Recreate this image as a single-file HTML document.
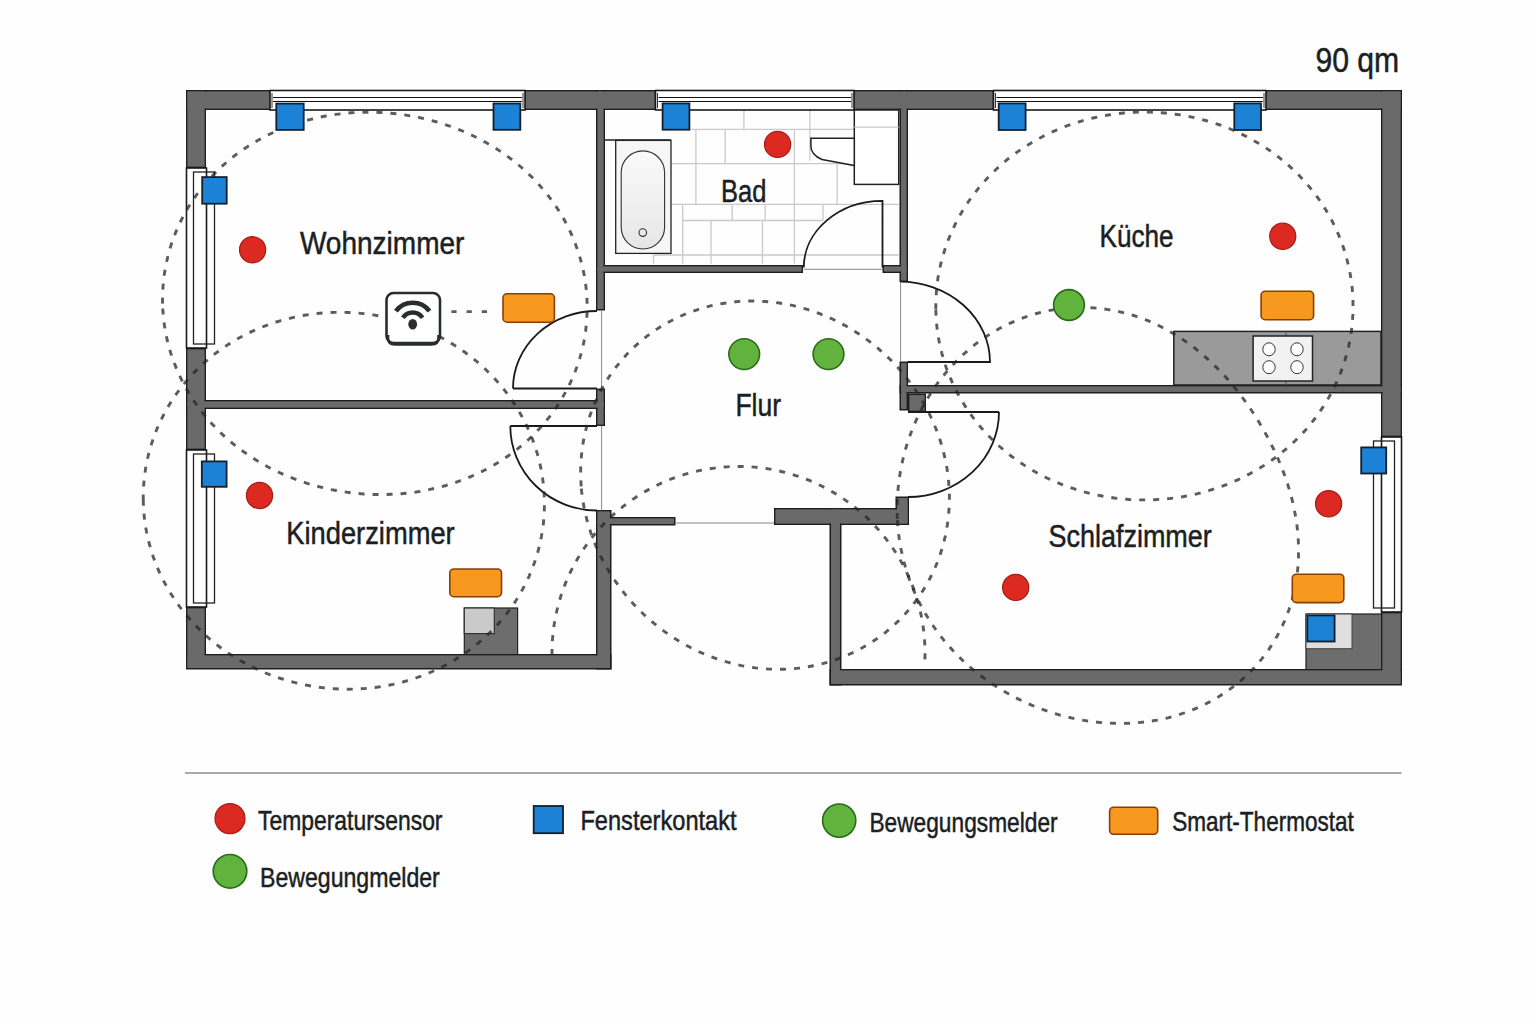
<!DOCTYPE html><html><head><meta charset="utf-8"><style>html,body{margin:0;padding:0;background:#fff;}svg{display:block;}text{font-family:"Liberation Sans",sans-serif;fill:#1b1e23;}</style></head><body>
<svg width="1536" height="1024" viewBox="0 0 1536 1024">
<rect width="1536" height="1024" fill="#fefefe"/>
<g stroke="#c9c9c9" stroke-width="1.3"><line x1="690.8" y1="129.3" x2="854.3" y2="129.3"/><line x1="671.6" y1="163.6" x2="854.3" y2="163.6"/><line x1="671.6" y1="204.3" x2="898.7" y2="204.3"/><line x1="682.7" y1="220.5" x2="823" y2="220.5"/><line x1="653.5" y1="255" x2="898.7" y2="255"/><line x1="854.3" y1="127.2" x2="898.7" y2="127.2"/><line x1="743.9" y1="110" x2="743.9" y2="129.3"/><line x1="809.9" y1="110" x2="809.9" y2="160.5"/><line x1="695.9" y1="129.3" x2="695.9" y2="204.3"/><line x1="725.1" y1="129.3" x2="725.1" y2="163.6"/><line x1="794.4" y1="129.3" x2="794.4" y2="263.5"/><line x1="837.1" y1="163.6" x2="837.1" y2="204.3"/><line x1="682.7" y1="204.3" x2="682.7" y2="263.5"/><line x1="732.2" y1="204.3" x2="732.2" y2="220.5"/><line x1="765.1" y1="204.3" x2="765.1" y2="220.5"/><line x1="823" y1="204.3" x2="823" y2="220.5"/><line x1="711" y1="220.5" x2="711" y2="263.5"/><line x1="762.5" y1="220.5" x2="762.5" y2="263.5"/><line x1="653.5" y1="255" x2="653.5" y2="263.5"/></g>
<defs><linearGradient id="tub" x1="0" y1="0" x2="0" y2="1"><stop offset="0" stop-color="#fafafa"/><stop offset="1" stop-color="#e6e6e6"/></linearGradient></defs>
<line x1="605" y1="140" x2="671" y2="140" stroke="#222" stroke-width="1.4"/>
<rect x="615.7" y="140.4" width="55.3" height="113.0" fill="#f6f6f6" stroke="#222" stroke-width="1.3"/>
<rect x="621.2" y="150.9" width="43.4" height="98.1" rx="21.7" fill="url(#tub)" stroke="#333" stroke-width="1.1"/>
<circle cx="642.8" cy="232.6" r="3.8" fill="none" stroke="#333" stroke-width="1.1"/>
<rect x="854.3" y="110.0" width="44.4" height="74.4" fill="#fff" stroke="#222" stroke-width="1.5"/>
<line x1="854.3" y1="127.2" x2="898.7" y2="127.2" stroke="#c9c9c9" stroke-width="1.3"/>
<path d="M 810.9 138.3 L 854.3 138.3 L 854.3 165.6 L 822 159.5 Q 810.9 155 810.9 146 Z" fill="#fff" stroke="#222" stroke-width="1.5"/>
<rect x="1173.8" y="331.4" width="207.2" height="53.6" fill="#9a9a9a" stroke="#222" stroke-width="1.5"/>
<line x1="1286" y1="331.4" x2="1286" y2="385" stroke="#555" stroke-width="1"/>
<rect x="1253.1" y="336.0" width="59.4" height="45.0" fill="#f2f2f2" stroke="#222" stroke-width="1.5"/>
<ellipse cx="1269" cy="349.3" rx="6.2" ry="6.5" fill="#fff" stroke="#333" stroke-width="1"/>
<ellipse cx="1269" cy="367.2" rx="6.2" ry="6.5" fill="#fff" stroke="#333" stroke-width="1"/>
<ellipse cx="1297" cy="349.3" rx="6.2" ry="6.5" fill="#fff" stroke="#333" stroke-width="1"/>
<ellipse cx="1297" cy="367.2" rx="6.2" ry="6.5" fill="#fff" stroke="#333" stroke-width="1"/>
<rect x="464.3" y="608.0" width="53.3" height="47.0" fill="#6d6d6d" stroke="#222" stroke-width="1.2"/>
<rect x="464.3" y="608.0" width="30.0" height="25.6" fill="#cacaca" stroke="#333" stroke-width="1.2"/>
<rect x="1306.0" y="614.0" width="76.0" height="56.0" fill="#6d6d6d" stroke="#222" stroke-width="1.2"/>
<rect x="1306.0" y="614.0" width="46.0" height="34.7" fill="#dedede" stroke="#444" stroke-width="1.0"/>
<rect x="186.8" y="90.8" width="83.4" height="18.4" fill="#6a6a6a" stroke="#1e1e1e" stroke-width="1.6"/>
<rect x="524.8" y="90.8" width="130.4" height="18.4" fill="#6a6a6a" stroke="#1e1e1e" stroke-width="1.6"/>
<rect x="853.8" y="90.8" width="139.4" height="18.4" fill="#6a6a6a" stroke="#1e1e1e" stroke-width="1.6"/>
<rect x="1265.8" y="90.8" width="135.4" height="18.4" fill="#6a6a6a" stroke="#1e1e1e" stroke-width="1.6"/>
<rect x="186.8" y="90.8" width="18.4" height="76.4" fill="#6a6a6a" stroke="#1e1e1e" stroke-width="1.6"/>
<rect x="186.8" y="348.8" width="18.4" height="100.4" fill="#6a6a6a" stroke="#1e1e1e" stroke-width="1.6"/>
<rect x="186.8" y="607.8" width="18.4" height="60.4" fill="#6a6a6a" stroke="#1e1e1e" stroke-width="1.6"/>
<rect x="1381.8" y="90.8" width="19.4" height="345.4" fill="#6a6a6a" stroke="#1e1e1e" stroke-width="1.6"/>
<rect x="1381.8" y="612.8" width="19.4" height="71.4" fill="#6a6a6a" stroke="#1e1e1e" stroke-width="1.6"/>
<rect x="186.8" y="654.8" width="423.9" height="13.9" fill="#6a6a6a" stroke="#1e1e1e" stroke-width="1.6"/>
<rect x="596.8" y="510.8" width="13.9" height="157.9" fill="#6a6a6a" stroke="#1e1e1e" stroke-width="1.6"/>
<rect x="596.8" y="90.8" width="7.4" height="218.9" fill="#6a6a6a" stroke="#1e1e1e" stroke-width="1.6"/>
<rect x="596.8" y="389.3" width="7.4" height="35.9" fill="#6a6a6a" stroke="#1e1e1e" stroke-width="1.6"/>
<rect x="186.8" y="400.8" width="417.4" height="7.4" fill="#6a6a6a" stroke="#1e1e1e" stroke-width="1.6"/>
<rect x="596.8" y="517.8" width="77.9" height="6.9" fill="#6a6a6a" stroke="#1e1e1e" stroke-width="1.6"/>
<rect x="596.8" y="265.8" width="205.4" height="6.4" fill="#6a6a6a" stroke="#1e1e1e" stroke-width="1.6"/>
<rect x="883.3" y="265.8" width="23.9" height="6.4" fill="#6a6a6a" stroke="#1e1e1e" stroke-width="1.6"/>
<rect x="900.3" y="90.8" width="6.9" height="190.4" fill="#6a6a6a" stroke="#1e1e1e" stroke-width="1.6"/>
<rect x="900.3" y="362.3" width="6.9" height="47.4" fill="#6a6a6a" stroke="#1e1e1e" stroke-width="1.6"/>
<rect x="908.8" y="394.3" width="16.4" height="16.9" fill="#6a6a6a" stroke="#1e1e1e" stroke-width="1.6"/>
<rect x="900.3" y="385.8" width="500.9" height="6.9" fill="#6a6a6a" stroke="#1e1e1e" stroke-width="1.6"/>
<rect x="774.8" y="508.8" width="133.4" height="15.4" fill="#6a6a6a" stroke="#1e1e1e" stroke-width="1.6"/>
<rect x="896.3" y="497.3" width="11.9" height="26.9" fill="#6a6a6a" stroke="#1e1e1e" stroke-width="1.6"/>
<rect x="830.3" y="508.8" width="10.4" height="175.9" fill="#6a6a6a" stroke="#1e1e1e" stroke-width="1.6"/>
<rect x="830.3" y="669.8" width="570.9" height="14.9" fill="#6a6a6a" stroke="#1e1e1e" stroke-width="1.6"/>
<rect x="187.6" y="91.6" width="81.8" height="16.8" fill="#6a6a6a"/>
<rect x="525.6" y="91.6" width="128.8" height="16.8" fill="#6a6a6a"/>
<rect x="854.6" y="91.6" width="137.8" height="16.8" fill="#6a6a6a"/>
<rect x="1266.6" y="91.6" width="133.8" height="16.8" fill="#6a6a6a"/>
<rect x="187.6" y="91.6" width="16.8" height="74.8" fill="#6a6a6a"/>
<rect x="187.6" y="349.6" width="16.8" height="98.8" fill="#6a6a6a"/>
<rect x="187.6" y="608.6" width="16.8" height="58.8" fill="#6a6a6a"/>
<rect x="1382.6" y="91.6" width="17.8" height="343.8" fill="#6a6a6a"/>
<rect x="1382.6" y="613.6" width="17.8" height="69.8" fill="#6a6a6a"/>
<rect x="187.6" y="655.6" width="422.3" height="12.3" fill="#6a6a6a"/>
<rect x="597.6" y="511.6" width="12.3" height="156.3" fill="#6a6a6a"/>
<rect x="597.6" y="91.6" width="5.8" height="217.3" fill="#6a6a6a"/>
<rect x="597.6" y="390.1" width="5.8" height="34.3" fill="#6a6a6a"/>
<rect x="187.6" y="401.6" width="415.8" height="5.8" fill="#6a6a6a"/>
<rect x="597.6" y="518.6" width="76.3" height="5.3" fill="#6a6a6a"/>
<rect x="597.6" y="266.6" width="203.8" height="4.8" fill="#6a6a6a"/>
<rect x="884.1" y="266.6" width="22.3" height="4.8" fill="#6a6a6a"/>
<rect x="901.1" y="91.6" width="5.3" height="188.8" fill="#6a6a6a"/>
<rect x="901.1" y="363.1" width="5.3" height="45.8" fill="#6a6a6a"/>
<rect x="909.6" y="395.1" width="14.8" height="15.3" fill="#6a6a6a"/>
<rect x="901.1" y="386.6" width="499.3" height="5.3" fill="#6a6a6a"/>
<rect x="775.6" y="509.6" width="131.8" height="13.8" fill="#6a6a6a"/>
<rect x="897.1" y="498.1" width="10.3" height="25.3" fill="#6a6a6a"/>
<rect x="831.1" y="509.6" width="8.8" height="174.3" fill="#6a6a6a"/>
<rect x="831.1" y="670.6" width="569.3" height="13.3" fill="#6a6a6a"/>
<rect x="270.0" y="90.5" width="255.0" height="19.5" fill="#fff" stroke="#1a1a1a" stroke-width="1.6"/>
<line x1="273" y1="97.5" x2="522" y2="97.5" stroke="#111" stroke-width="1.1"/>
<line x1="273" y1="101.5" x2="522" y2="101.5" stroke="#111" stroke-width="1.1"/>
<line x1="272" y1="93" x2="272" y2="108" stroke="#333" stroke-width="1"/>
<line x1="523" y1="93" x2="523" y2="108" stroke="#333" stroke-width="1"/>
<rect x="655.5" y="90.5" width="198.5" height="19.5" fill="#fff" stroke="#1a1a1a" stroke-width="1.6"/>
<line x1="658.5" y1="97.5" x2="851" y2="97.5" stroke="#111" stroke-width="1.1"/>
<line x1="658.5" y1="101.5" x2="851" y2="101.5" stroke="#111" stroke-width="1.1"/>
<line x1="657.5" y1="93" x2="657.5" y2="108" stroke="#333" stroke-width="1"/>
<line x1="852" y1="93" x2="852" y2="108" stroke="#333" stroke-width="1"/>
<rect x="993.5" y="90.5" width="272.5" height="19.5" fill="#fff" stroke="#1a1a1a" stroke-width="1.6"/>
<line x1="996.5" y1="97.5" x2="1263" y2="97.5" stroke="#111" stroke-width="1.1"/>
<line x1="996.5" y1="101.5" x2="1263" y2="101.5" stroke="#111" stroke-width="1.1"/>
<line x1="995.5" y1="93" x2="995.5" y2="108" stroke="#333" stroke-width="1"/>
<line x1="1264" y1="93" x2="1264" y2="108" stroke="#333" stroke-width="1"/>
<rect x="186.5" y="168.0" width="20.0" height="180.0" fill="#fff" stroke="#1a1a1a" stroke-width="1.6"/>
<rect x="193.5" y="172.0" width="21.0" height="172.0" fill="none" stroke="#222" stroke-width="1.3"/>
<rect x="186.5" y="450.0" width="20.0" height="157.0" fill="#fff" stroke="#1a1a1a" stroke-width="1.6"/>
<rect x="193.5" y="454.0" width="21.0" height="149.0" fill="none" stroke="#222" stroke-width="1.3"/>
<rect x="1381.5" y="437.0" width="20.0" height="175.0" fill="#fff" stroke="#1a1a1a" stroke-width="1.6"/>
<rect x="1373.5" y="441.0" width="21.0" height="167.0" fill="none" stroke="#222" stroke-width="1.3"/>
<g fill="none" stroke="#1a1a1a" stroke-width="1.8">
<path d="M 803.8 267.5 A 78.7 66.6 0 0 1 882.5 200.9 L 882.5 267.5"/>
<path d="M 513 388.5 A 84 77.5 0 0 1 597 311 M 513 388.5 L 597 388.5"/>
<path d="M 510.3 426 A 86.7 84.5 0 0 0 597 510.5 M 510.3 426 L 597 426"/>
<path d="M 900 281.7 A 90 80.5 0 0 1 990 362 L 908 362"/>
<path d="M 999 412 A 91 85 0 0 1 908 497 M 999 412 L 908 412"/>
</g>
<g stroke="#888" stroke-width="1">
<line x1="601.6" y1="310.5" x2="601.6" y2="388.5"/>
<line x1="601.6" y1="426" x2="601.6" y2="510.5"/>
<line x1="803.8" y1="269.3" x2="882.5" y2="269.3"/>
<line x1="900.6" y1="282" x2="900.6" y2="361.5"/>
<line x1="675.5" y1="523" x2="774" y2="523"/>
</g>
<g fill="none" stroke="#262626" stroke-opacity="0.75" stroke-width="2.9" stroke-dasharray="6 8">
<path d="M 162.6 303.6 L 162.5 298.0 L 162.7 292.4 L 163.0 286.8 L 163.5 281.2 L 164.1 275.7 L 165.0 270.1 L 166.0 264.6 L 167.2 259.2 L 168.5 253.7 L 170.0 248.4 L 171.7 243.0 L 173.6 237.8 L 175.6 232.6 L 177.8 227.5 L 180.1 222.4 L 182.6 217.5 L 185.3 212.6 L 188.0 207.8 L 191.0 203.1 L 194.0 198.5 L 197.2 194.0 L 200.5 189.6 L 204.0 185.3 L 207.5 181.1 L 211.2 177.1 L 215.0 173.1 L 218.8 169.3 L 222.8 165.6 L 226.9 162.0 L 231.0 158.6 L 235.3 155.2 L 239.6 152.0 L 244.0 149.0 L 248.5 146.0 L 253.0 143.2 L 257.6 140.5 L 262.2 138.0 L 266.9 135.5 L 271.7 133.2 L 276.4 131.1 L 281.3 129.0 L 286.1 127.1 L 291.0 125.3 L 295.9 123.6 L 300.8 122.0 L 305.8 120.6 L 310.8 119.3 L 315.8 118.1 L 320.8 117.0 L 325.8 116.0 L 330.8 115.2 L 335.8 114.4 L 340.9 113.8 L 345.9 113.3 L 350.9 112.8 L 356.0 112.5 L 361.0 112.3 L 366.0 112.2 L 371.0 112.2 L 376.0 112.3 L 381.0 112.5 L 386.0 112.9 L 391.0 113.3 L 396.0 113.8 L 400.9 114.4 L 405.9 115.1 L 410.8 115.9 L 415.7 116.8 L 420.6 117.8 L 425.5 119.0 L 430.4 120.2 L 435.2 121.5 L 440.0 122.9 L 444.8 124.4 L 449.6 126.0 L 454.3 127.8 L 459.0 129.6 L 463.7 131.5 L 468.3 133.6 L 472.9 135.7 L 477.5 138.0 L 482.0 140.3 L 486.5 142.8 L 491.0 145.4 L 495.4 148.1 L 499.7 150.9 L 504.0 153.8 L 508.2 156.8 L 512.3 159.9 L 516.4 163.2 L 520.4 166.5 L 524.4 170.0 L 528.2 173.6 L 532.0 177.3 L 535.7 181.1 L 539.3 185.0 L 542.8 189.0 L 546.2 193.1 L 549.5 197.3 L 552.6 201.6 L 555.7 206.0 L 558.7 210.5 L 561.5 215.1 L 564.2 219.8 L 566.8 224.6 L 569.2 229.4 L 571.5 234.4 L 573.6 239.4 L 575.6 244.4 L 577.5 249.6 L 579.2 254.8 L 580.7 260.1 L 582.1 265.4 L 583.3 270.7 L 584.4 276.1 L 585.3 281.6 L 586.0 287.0 L 586.6 292.5 L 586.9 298.0 L 587.1 303.6 L 587.2 309.1 L 587.0 314.6 L 586.7 320.1 L 586.2 325.7 L 585.6 331.2 L 584.8 336.6 L 583.8 342.1 L 582.6 347.5 L 581.3 352.8 L 579.8 358.1 L 578.1 363.4 L 576.3 368.6 L 574.3 373.8 L 572.1 378.8 L 569.8 383.8 L 567.4 388.8 L 564.8 393.6 L 562.0 398.3 L 559.2 403.0 L 556.2 407.6 L 553.0 412.0 L 549.8 416.4 L 546.4 420.6 L 542.9 424.8 L 539.3 428.8 L 535.6 432.7 L 531.7 436.5 L 527.8 440.2 L 523.8 443.8 L 519.7 447.2 L 515.5 450.6 L 511.3 453.7 L 506.9 456.8 L 502.5 459.8 L 498.1 462.6 L 493.5 465.3 L 489.0 467.9 L 484.3 470.3 L 479.6 472.6 L 474.9 474.8 L 470.2 476.9 L 465.4 478.9 L 460.5 480.7 L 455.7 482.4 L 450.8 484.0 L 445.9 485.5 L 440.9 486.9 L 436.0 488.1 L 431.0 489.2 L 426.1 490.3 L 421.1 491.2 L 416.1 492.0 L 411.1 492.6 L 406.1 493.2 L 401.1 493.7 L 396.1 494.1 L 391.1 494.3 L 386.0 494.5 L 381.0 494.6 L 376.0 494.5 L 371.0 494.4 L 366.1 494.1 L 361.1 493.8 L 356.1 493.3 L 351.1 492.8 L 346.2 492.1 L 341.2 491.4 L 336.3 490.5 L 331.4 489.6 L 326.5 488.5 L 321.6 487.3 L 316.7 486.1 L 311.9 484.7 L 307.1 483.3 L 302.3 481.7 L 297.5 480.0 L 292.7 478.2 L 288.0 476.3 L 283.3 474.3 L 278.7 472.2 L 274.0 470.0 L 269.5 467.7 L 264.9 465.2 L 260.4 462.7 L 256.0 460.0 L 251.6 457.2 L 247.3 454.3 L 243.0 451.3 L 238.8 448.2 L 234.6 445.0 L 230.5 441.6 L 226.5 438.2 L 222.6 434.6 L 218.8 430.9 L 215.0 427.1 L 211.4 423.2 L 207.8 419.2 L 204.4 415.0 L 201.0 410.8 L 197.8 406.5 L 194.7 402.0 L 191.6 397.5 L 188.8 392.9 L 186.0 388.2 L 183.4 383.4 L 180.9 378.5 L 178.6 373.5 L 176.4 368.4 L 174.4 363.3 L 172.5 358.1 L 170.7 352.9 L 169.1 347.5 L 167.7 342.2 L 166.5 336.8 L 165.4 331.3 L 164.5 325.8 L 163.8 320.3 L 163.2 314.7 L 162.8 309.1 Z"/>
<path d="M 143.3 500.5 L 143.2 495.3 L 143.4 490.0 L 143.7 484.8 L 144.2 479.5 L 144.8 474.3 L 145.5 469.1 L 146.4 463.9 L 147.5 458.8 L 148.7 453.7 L 150.1 448.6 L 151.6 443.6 L 153.3 438.6 L 155.1 433.7 L 157.0 428.8 L 159.1 424.0 L 161.4 419.3 L 163.7 414.6 L 166.2 410.0 L 168.8 405.5 L 171.6 401.1 L 174.4 396.7 L 177.4 392.5 L 180.5 388.3 L 183.7 384.2 L 187.1 380.2 L 190.5 376.4 L 194.0 372.6 L 197.7 368.9 L 201.4 365.4 L 205.2 361.9 L 209.1 358.6 L 213.1 355.3 L 217.1 352.2 L 221.3 349.2 L 225.5 346.3 L 229.8 343.5 L 234.1 340.9 L 238.5 338.3 L 243.0 335.9 L 247.5 333.6 L 252.0 331.4 L 256.6 329.4 L 261.3 327.4 L 265.9 325.6 L 270.7 323.9 L 275.4 322.3 L 280.2 320.8 L 285.0 319.5 L 289.8 318.3 L 294.7 317.2 L 299.6 316.2 L 304.4 315.3 L 309.3 314.5 L 314.3 313.9 L 319.2 313.3 L 324.1 312.9 L 329.0 312.6 L 334.0 312.4 L 338.9 312.3 L 343.8 312.4 L 348.7 312.5 L 353.7 312.8 L 358.6 313.1 L 363.5 313.6 L 368.3 314.2 L 373.2 314.9 L 378.1 315.7 L 382.9 316.6 L 387.7 317.7 L 392.5 318.8 L 397.3 320.1 L 402.0 321.4 L 406.7 322.9 L 411.4 324.5 L 416.0 326.1 L 420.7 327.9 L 425.2 329.8 L 429.8 331.9 L 434.2 334.0 L 438.7 336.2 L 443.1 338.5 L 447.4 341.0 L 451.7 343.5 L 456.0 346.2 L 460.1 348.9 L 464.2 351.8 L 468.3 354.8 L 472.3 357.9 L 476.2 361.0 L 480.0 364.3 L 483.8 367.7 L 487.4 371.2 L 491.0 374.8 L 494.5 378.5 L 497.9 382.3 L 501.3 386.1 L 504.5 390.1 L 507.6 394.2 L 510.6 398.3 L 513.5 402.6 L 516.3 406.9 L 519.0 411.3 L 521.5 415.8 L 524.0 420.3 L 526.3 424.9 L 528.5 429.6 L 530.5 434.4 L 532.5 439.2 L 534.2 444.1 L 535.9 449.1 L 537.4 454.0 L 538.8 459.1 L 540.0 464.2 L 541.1 469.3 L 542.0 474.4 L 542.8 479.6 L 543.4 484.8 L 543.9 490.0 L 544.2 495.3 L 544.4 500.5 L 544.4 505.8 L 544.3 511.0 L 544.0 516.3 L 543.6 521.5 L 543.0 526.7 L 542.2 531.9 L 541.3 537.1 L 540.2 542.3 L 539.0 547.4 L 537.7 552.5 L 536.2 557.5 L 534.5 562.5 L 532.7 567.4 L 530.8 572.3 L 528.7 577.1 L 526.5 581.8 L 524.1 586.5 L 521.6 591.1 L 519.0 595.6 L 516.3 600.1 L 513.4 604.5 L 510.4 608.7 L 507.3 612.9 L 504.1 617.0 L 500.8 621.0 L 497.4 624.9 L 493.8 628.7 L 490.2 632.3 L 486.5 635.9 L 482.7 639.4 L 478.8 642.7 L 474.8 646.0 L 470.7 649.1 L 466.6 652.1 L 462.4 655.0 L 458.1 657.8 L 453.8 660.5 L 449.4 663.0 L 444.9 665.5 L 440.4 667.8 L 435.8 670.0 L 431.2 672.0 L 426.6 674.0 L 421.9 675.8 L 417.1 677.5 L 412.4 679.1 L 407.6 680.6 L 402.8 682.0 L 397.9 683.2 L 393.1 684.3 L 388.2 685.3 L 383.3 686.2 L 378.4 687.0 L 373.5 687.6 L 368.5 688.2 L 363.6 688.6 L 358.6 688.9 L 353.7 689.1 L 348.8 689.2 L 343.8 689.1 L 338.9 689.0 L 334.0 688.7 L 329.0 688.3 L 324.1 687.9 L 319.2 687.3 L 314.4 686.6 L 309.5 685.7 L 304.6 684.8 L 299.8 683.8 L 295.0 682.6 L 290.2 681.4 L 285.5 680.0 L 280.8 678.5 L 276.1 677.0 L 271.4 675.3 L 266.8 673.5 L 262.2 671.6 L 257.7 669.5 L 253.2 667.4 L 248.8 665.2 L 244.4 662.8 L 240.0 660.4 L 235.7 657.8 L 231.5 655.1 L 227.3 652.4 L 223.2 649.5 L 219.1 646.5 L 215.2 643.4 L 211.3 640.2 L 207.4 636.9 L 203.7 633.5 L 200.0 630.0 L 196.4 626.4 L 192.9 622.7 L 189.5 618.9 L 186.2 615.0 L 183.0 611.1 L 179.9 607.0 L 176.9 602.8 L 174.0 598.6 L 171.2 594.3 L 168.5 589.8 L 166.0 585.4 L 163.5 580.8 L 161.2 576.2 L 159.0 571.4 L 157.0 566.7 L 155.1 561.8 L 153.3 557.0 L 151.7 552.0 L 150.2 547.0 L 148.8 542.0 L 147.6 536.9 L 146.5 531.8 L 145.6 526.6 L 144.8 521.4 L 144.2 516.2 L 143.7 511.0 L 143.4 505.8 Z"/>
<path d="M 581.2 486.4 L 580.9 481.6 L 580.7 476.7 L 580.7 471.9 L 580.7 467.0 L 580.9 462.1 L 581.3 457.3 L 581.8 452.4 L 582.4 447.6 L 583.1 442.7 L 584.0 437.9 L 585.0 433.1 L 586.2 428.3 L 587.5 423.5 L 588.9 418.8 L 590.5 414.1 L 592.2 409.5 L 594.1 404.9 L 596.1 400.3 L 598.2 395.8 L 600.4 391.4 L 602.8 387.0 L 605.3 382.7 L 608.0 378.5 L 610.7 374.3 L 613.6 370.2 L 616.6 366.3 L 619.8 362.4 L 623.0 358.6 L 626.4 354.8 L 629.8 351.2 L 633.4 347.7 L 637.1 344.4 L 640.9 341.1 L 644.8 337.9 L 648.7 334.9 L 652.8 331.9 L 656.9 329.1 L 661.1 326.5 L 665.4 323.9 L 669.8 321.5 L 674.2 319.2 L 678.7 317.0 L 683.2 315.0 L 687.8 313.1 L 692.5 311.4 L 697.2 309.8 L 701.9 308.3 L 706.7 306.9 L 711.5 305.7 L 716.3 304.7 L 721.1 303.7 L 726.0 303.0 L 730.9 302.3 L 735.7 301.8 L 740.6 301.4 L 745.5 301.1 L 750.4 301.0 L 755.3 301.0 L 760.1 301.2 L 765.0 301.5 L 769.8 301.9 L 774.6 302.4 L 779.4 303.0 L 784.2 303.8 L 788.9 304.7 L 793.6 305.7 L 798.2 306.9 L 802.9 308.1 L 807.4 309.4 L 812.0 310.9 L 816.5 312.5 L 820.9 314.2 L 825.3 315.9 L 829.7 317.8 L 834.0 319.8 L 838.2 321.9 L 842.4 324.1 L 846.5 326.3 L 850.6 328.7 L 854.6 331.2 L 858.5 333.7 L 862.4 336.3 L 866.2 339.1 L 870.0 341.9 L 873.6 344.7 L 877.3 347.7 L 880.8 350.8 L 884.3 353.9 L 887.7 357.1 L 891.0 360.3 L 894.3 363.7 L 897.4 367.1 L 900.5 370.6 L 903.5 374.2 L 906.5 377.8 L 909.3 381.5 L 912.1 385.2 L 914.8 389.1 L 917.4 393.0 L 919.9 396.9 L 922.4 400.9 L 924.7 405.0 L 926.9 409.1 L 929.1 413.3 L 931.1 417.5 L 933.1 421.8 L 934.9 426.2 L 936.7 430.6 L 938.3 435.0 L 939.9 439.5 L 941.3 444.0 L 942.6 448.6 L 943.8 453.2 L 944.9 457.9 L 945.9 462.5 L 946.8 467.3 L 947.5 472.0 L 948.1 476.8 L 948.6 481.6 L 949.0 486.4 L 949.3 491.2 L 949.4 496.0 L 949.4 500.9 L 949.2 505.7 L 948.9 510.6 L 948.5 515.4 L 948.0 520.3 L 947.3 525.1 L 946.5 530.0 L 945.6 534.8 L 944.5 539.5 L 943.3 544.3 L 941.9 549.0 L 940.4 553.7 L 938.8 558.4 L 937.0 563.0 L 935.1 567.5 L 933.1 572.0 L 930.9 576.5 L 928.6 580.9 L 926.2 585.2 L 923.7 589.4 L 921.0 593.6 L 918.2 597.7 L 915.3 601.7 L 912.3 605.6 L 909.1 609.5 L 905.8 613.2 L 902.5 616.8 L 899.0 620.4 L 895.4 623.8 L 891.7 627.1 L 887.9 630.4 L 884.1 633.5 L 880.1 636.4 L 876.1 639.3 L 872.0 642.0 L 867.8 644.7 L 863.5 647.1 L 859.2 649.5 L 854.8 651.7 L 850.3 653.8 L 845.8 655.8 L 841.2 657.6 L 836.6 659.3 L 832.0 660.9 L 827.3 662.3 L 822.6 663.6 L 817.8 664.8 L 813.1 665.8 L 808.3 666.7 L 803.5 667.5 L 798.7 668.1 L 793.8 668.6 L 789.0 668.9 L 784.2 669.2 L 779.4 669.3 L 774.6 669.2 L 769.8 669.1 L 765.0 668.8 L 760.2 668.4 L 755.5 667.9 L 750.7 667.2 L 746.0 666.4 L 741.4 665.6 L 736.8 664.6 L 732.2 663.4 L 727.6 662.2 L 723.1 660.9 L 718.6 659.4 L 714.2 657.9 L 709.8 656.3 L 705.4 654.5 L 701.1 652.7 L 696.9 650.7 L 692.7 648.7 L 688.6 646.5 L 684.5 644.3 L 680.5 642.0 L 676.5 639.6 L 672.6 637.1 L 668.8 634.5 L 665.0 631.9 L 661.3 629.1 L 657.6 626.3 L 654.0 623.4 L 650.5 620.4 L 647.0 617.4 L 643.6 614.2 L 640.3 611.0 L 637.1 607.7 L 633.9 604.4 L 630.8 601.0 L 627.8 597.5 L 624.8 593.9 L 622.0 590.3 L 619.2 586.6 L 616.5 582.8 L 613.8 579.0 L 611.3 575.1 L 608.8 571.1 L 606.5 567.1 L 604.2 563.1 L 602.0 558.9 L 599.9 554.7 L 597.9 550.5 L 596.0 546.2 L 594.2 541.9 L 592.5 537.5 L 590.9 533.0 L 589.5 528.5 L 588.1 524.0 L 586.8 519.4 L 585.7 514.8 L 584.6 510.1 L 583.7 505.4 L 582.9 500.7 L 582.2 496.0 L 581.6 491.2 Z"/>
<path d="M 552.01 655 A 186.5 186.5 0 1 1 924.47 667"/>
<path d="M 935.8 309.2 L 935.8 303.8 L 936.0 298.3 L 936.3 292.8 L 936.8 287.4 L 937.4 282.0 L 938.2 276.6 L 939.2 271.2 L 940.3 265.9 L 941.6 260.6 L 943.1 255.3 L 944.7 250.1 L 946.4 244.9 L 948.3 239.8 L 950.4 234.8 L 952.6 229.8 L 954.9 224.9 L 957.4 220.0 L 960.0 215.3 L 962.7 210.6 L 965.6 206.0 L 968.5 201.5 L 971.7 197.1 L 974.9 192.8 L 978.2 188.6 L 981.7 184.4 L 985.3 180.4 L 988.9 176.5 L 992.7 172.7 L 996.5 169.0 L 1000.5 165.4 L 1004.5 161.9 L 1008.6 158.5 L 1012.8 155.3 L 1017.1 152.1 L 1021.5 149.1 L 1025.9 146.2 L 1030.4 143.4 L 1034.9 140.8 L 1039.5 138.2 L 1044.2 135.8 L 1048.9 133.5 L 1053.6 131.3 L 1058.4 129.2 L 1063.3 127.2 L 1068.2 125.4 L 1073.1 123.7 L 1078.1 122.1 L 1083.0 120.6 L 1088.0 119.2 L 1093.1 118.0 L 1098.1 116.9 L 1103.2 115.9 L 1108.3 115.0 L 1113.4 114.2 L 1118.6 113.6 L 1123.7 113.0 L 1128.8 112.6 L 1134.0 112.3 L 1139.2 112.1 L 1144.3 112.1 L 1149.5 112.1 L 1154.6 112.3 L 1159.8 112.6 L 1164.9 113.0 L 1170.1 113.5 L 1175.2 114.2 L 1180.3 114.9 L 1185.4 115.8 L 1190.5 116.8 L 1195.6 117.9 L 1200.6 119.1 L 1205.6 120.5 L 1210.6 121.9 L 1215.6 123.5 L 1220.5 125.2 L 1225.4 127.1 L 1230.3 129.0 L 1235.1 131.1 L 1239.8 133.3 L 1244.6 135.6 L 1249.2 138.0 L 1253.8 140.6 L 1258.4 143.2 L 1262.9 146.0 L 1267.3 148.9 L 1271.7 151.9 L 1276.0 155.1 L 1280.2 158.3 L 1284.3 161.7 L 1288.3 165.2 L 1292.3 168.8 L 1296.2 172.5 L 1299.9 176.3 L 1303.6 180.2 L 1307.2 184.3 L 1310.6 188.4 L 1314.0 192.6 L 1317.2 196.9 L 1320.3 201.4 L 1323.3 205.9 L 1326.2 210.5 L 1328.9 215.2 L 1331.5 219.9 L 1334.0 224.8 L 1336.3 229.7 L 1338.5 234.7 L 1340.6 239.7 L 1342.5 244.8 L 1344.2 250.0 L 1345.8 255.2 L 1347.2 260.5 L 1348.5 265.8 L 1349.7 271.2 L 1350.6 276.5 L 1351.4 282.0 L 1352.1 287.4 L 1352.6 292.8 L 1352.9 298.3 L 1353.0 303.8 L 1353.0 309.2 L 1352.9 314.7 L 1352.5 320.1 L 1352.0 325.6 L 1351.4 331.0 L 1350.6 336.4 L 1349.6 341.7 L 1348.5 347.1 L 1347.2 352.3 L 1345.7 357.6 L 1344.1 362.8 L 1342.4 367.9 L 1340.5 373.0 L 1338.5 378.0 L 1336.3 382.9 L 1334.0 387.8 L 1331.5 392.6 L 1328.9 397.3 L 1326.2 401.9 L 1323.4 406.4 L 1320.4 410.9 L 1317.4 415.3 L 1314.2 419.5 L 1310.9 423.7 L 1307.5 427.8 L 1304.0 431.7 L 1300.4 435.6 L 1296.7 439.3 L 1292.9 443.0 L 1289.0 446.5 L 1285.0 449.9 L 1281.0 453.2 L 1276.9 456.4 L 1272.7 459.5 L 1268.4 462.5 L 1264.1 465.4 L 1259.8 468.1 L 1255.3 470.7 L 1250.8 473.2 L 1246.3 475.6 L 1241.7 477.9 L 1237.1 480.1 L 1232.4 482.1 L 1227.7 484.1 L 1223.0 485.9 L 1218.2 487.6 L 1213.4 489.2 L 1208.6 490.7 L 1203.7 492.1 L 1198.9 493.3 L 1194.0 494.5 L 1189.0 495.5 L 1184.1 496.5 L 1179.2 497.3 L 1174.2 498.0 L 1169.2 498.6 L 1164.3 499.1 L 1159.3 499.4 L 1154.3 499.7 L 1149.3 499.9 L 1144.3 499.9 L 1139.3 499.9 L 1134.3 499.7 L 1129.3 499.5 L 1124.4 499.1 L 1119.4 498.6 L 1114.4 498.0 L 1109.5 497.3 L 1104.5 496.5 L 1099.6 495.5 L 1094.7 494.5 L 1089.8 493.4 L 1084.9 492.1 L 1080.0 490.7 L 1075.2 489.2 L 1070.4 487.6 L 1065.6 485.9 L 1060.9 484.1 L 1056.2 482.2 L 1051.5 480.1 L 1046.9 478.0 L 1042.3 475.7 L 1037.8 473.3 L 1033.3 470.8 L 1028.9 468.1 L 1024.5 465.4 L 1020.2 462.5 L 1015.9 459.5 L 1011.7 456.5 L 1007.6 453.3 L 1003.6 449.9 L 999.6 446.5 L 995.8 443.0 L 992.0 439.3 L 988.3 435.6 L 984.7 431.7 L 981.2 427.7 L 977.8 423.7 L 974.5 419.5 L 971.3 415.2 L 968.2 410.9 L 965.3 406.4 L 962.5 401.9 L 959.7 397.3 L 957.2 392.5 L 954.7 387.7 L 952.4 382.9 L 950.3 377.9 L 948.2 372.9 L 946.3 367.9 L 944.6 362.7 L 943.0 357.5 L 941.6 352.3 L 940.3 347.0 L 939.2 341.7 L 938.2 336.4 L 937.4 331.0 L 936.8 325.6 L 936.3 320.1 L 936.0 314.7 Z"/>
<path d="M 897.4 518.9 L 897.2 513.7 L 897.2 508.4 L 897.2 503.2 L 897.4 497.9 L 897.8 492.6 L 898.2 487.4 L 898.8 482.1 L 899.5 476.9 L 900.4 471.6 L 901.4 466.4 L 902.5 461.2 L 903.7 456.0 L 905.1 450.8 L 906.6 445.7 L 908.2 440.5 L 910.0 435.5 L 911.9 430.4 L 913.9 425.4 L 916.1 420.4 L 918.4 415.5 L 920.8 410.6 L 923.3 405.8 L 926.0 401.1 L 928.8 396.4 L 931.7 391.8 L 934.8 387.2 L 938.0 382.7 L 941.3 378.3 L 944.8 374.0 L 948.4 369.8 L 952.1 365.7 L 955.9 361.7 L 959.8 357.7 L 963.9 353.9 L 968.1 350.3 L 972.3 346.7 L 976.7 343.2 L 981.2 339.9 L 985.8 336.8 L 990.6 333.7 L 995.4 330.8 L 1000.3 328.1 L 1005.2 325.5 L 1010.3 323.1 L 1015.4 320.9 L 1020.6 318.8 L 1025.9 316.8 L 1031.2 315.1 L 1036.6 313.5 L 1042.1 312.1 L 1047.5 310.9 L 1053.0 309.9 L 1058.6 309.0 L 1064.1 308.4 L 1069.7 307.9 L 1075.3 307.6 L 1080.8 307.5 L 1086.4 307.5 L 1091.9 307.8 L 1097.5 308.2 L 1103.0 308.8 L 1108.4 309.6 L 1113.9 310.6 L 1119.3 311.7 L 1124.6 313.0 L 1129.9 314.4 L 1135.1 316.0 L 1140.2 317.8 L 1145.3 319.7 L 1150.3 321.7 L 1155.2 323.9 L 1160.1 326.3 L 1164.8 328.7 L 1169.5 331.3 L 1174.1 333.9 L 1178.6 336.7 L 1183.0 339.6 L 1187.3 342.6 L 1191.5 345.7 L 1195.7 348.9 L 1199.7 352.1 L 1203.6 355.5 L 1207.5 358.9 L 1211.2 362.3 L 1214.9 365.9 L 1218.5 369.5 L 1222.0 373.1 L 1225.4 376.8 L 1228.8 380.6 L 1232.0 384.4 L 1235.2 388.3 L 1238.3 392.1 L 1241.3 396.1 L 1244.3 400.1 L 1247.1 404.1 L 1250.0 408.1 L 1252.7 412.2 L 1255.4 416.4 L 1258.0 420.6 L 1260.5 424.8 L 1263.0 429.0 L 1265.4 433.3 L 1267.8 437.7 L 1270.1 442.1 L 1272.3 446.5 L 1274.5 451.0 L 1276.6 455.5 L 1278.6 460.1 L 1280.5 464.7 L 1282.4 469.4 L 1284.2 474.1 L 1285.9 478.9 L 1287.5 483.7 L 1289.0 488.6 L 1290.4 493.5 L 1291.8 498.5 L 1293.0 503.5 L 1294.1 508.6 L 1295.1 513.8 L 1296.0 518.9 L 1296.8 524.1 L 1297.4 529.4 L 1297.9 534.7 L 1298.3 540.0 L 1298.5 545.4 L 1298.6 550.8 L 1298.5 556.2 L 1298.3 561.6 L 1297.9 567.1 L 1297.4 572.5 L 1296.7 577.9 L 1295.8 583.4 L 1294.7 588.8 L 1293.5 594.2 L 1292.1 599.5 L 1290.5 604.9 L 1288.8 610.2 L 1286.8 615.4 L 1284.7 620.6 L 1282.4 625.7 L 1279.9 630.7 L 1277.3 635.7 L 1274.5 640.6 L 1271.5 645.4 L 1268.4 650.1 L 1265.1 654.6 L 1261.6 659.1 L 1258.0 663.4 L 1254.2 667.7 L 1250.3 671.7 L 1246.2 675.7 L 1242.1 679.5 L 1237.7 683.2 L 1233.3 686.7 L 1228.8 690.0 L 1224.1 693.2 L 1219.4 696.3 L 1214.5 699.2 L 1209.6 701.9 L 1204.6 704.5 L 1199.5 706.9 L 1194.4 709.1 L 1189.2 711.1 L 1183.9 713.0 L 1178.6 714.8 L 1173.3 716.4 L 1167.9 717.8 L 1162.5 719.0 L 1157.1 720.1 L 1151.6 721.0 L 1146.2 721.8 L 1140.7 722.4 L 1135.3 722.9 L 1129.8 723.2 L 1124.4 723.4 L 1119.0 723.4 L 1113.6 723.3 L 1108.2 723.1 L 1102.8 722.7 L 1097.5 722.2 L 1092.2 721.6 L 1086.9 720.9 L 1081.7 720.0 L 1076.4 719.0 L 1071.3 717.9 L 1066.2 716.7 L 1061.1 715.4 L 1056.0 713.9 L 1051.0 712.4 L 1046.1 710.7 L 1041.2 708.9 L 1036.3 707.1 L 1031.5 705.1 L 1026.8 703.0 L 1022.1 700.9 L 1017.5 698.6 L 1012.9 696.3 L 1008.4 693.8 L 1003.9 691.3 L 999.5 688.6 L 995.2 685.9 L 990.9 683.0 L 986.7 680.1 L 982.6 677.1 L 978.5 674.0 L 974.5 670.8 L 970.6 667.5 L 966.7 664.1 L 963.0 660.7 L 959.3 657.1 L 955.7 653.5 L 952.2 649.8 L 948.8 645.9 L 945.4 642.1 L 942.2 638.1 L 939.0 634.0 L 936.0 629.9 L 933.1 625.7 L 930.2 621.4 L 927.5 617.1 L 924.8 612.7 L 922.3 608.2 L 919.9 603.6 L 917.6 599.0 L 915.4 594.3 L 913.4 589.6 L 911.4 584.8 L 909.6 580.0 L 907.9 575.1 L 906.3 570.2 L 904.9 565.2 L 903.5 560.2 L 902.3 555.1 L 901.2 550.0 L 900.3 544.9 L 899.4 539.7 L 898.7 534.6 L 898.2 529.4 L 897.7 524.2 Z"/>
<line x1="451.4" y1="311.6" x2="488" y2="311.6" stroke-dasharray="5.2 10"/>
</g>
<rect x="276.3" y="103.6" width="27.4" height="26.3" fill="#1c82d6" stroke="#12202e" stroke-width="1.8"/>
<rect x="493.5" y="103.5" width="26.8" height="26.3" fill="#1c82d6" stroke="#12202e" stroke-width="1.8"/>
<rect x="202.2" y="177.1" width="24.5" height="26.6" fill="#1c82d6" stroke="#12202e" stroke-width="1.8"/>
<rect x="662.6" y="103.4" width="26.8" height="26.3" fill="#1c82d6" stroke="#12202e" stroke-width="1.8"/>
<rect x="998.7" y="103.4" width="26.9" height="26.6" fill="#1c82d6" stroke="#12202e" stroke-width="1.8"/>
<rect x="1234.3" y="103.4" width="26.7" height="26.6" fill="#1c82d6" stroke="#12202e" stroke-width="1.8"/>
<rect x="201.8" y="461.4" width="24.8" height="25.4" fill="#1c82d6" stroke="#12202e" stroke-width="1.8"/>
<rect x="1361.2" y="447.4" width="25.0" height="26.1" fill="#1c82d6" stroke="#12202e" stroke-width="1.8"/>
<rect x="1307.3" y="615.4" width="27.3" height="26.1" fill="#1c82d6" stroke="#12202e" stroke-width="1.8"/>
<rect x="533.7" y="806.0" width="29.3" height="27.2" fill="#1c82d6" stroke="#12202e" stroke-width="1.8"/>
<circle cx="252.6" cy="249.8" r="13.1" fill="#dc2a22" stroke="#a61b14" stroke-width="1.2"/>
<circle cx="777.6" cy="144.4" r="13.1" fill="#dc2a22" stroke="#a61b14" stroke-width="1.2"/>
<circle cx="1282.7" cy="236.3" r="13.1" fill="#dc2a22" stroke="#a61b14" stroke-width="1.2"/>
<circle cx="259.5" cy="495.5" r="13.1" fill="#dc2a22" stroke="#a61b14" stroke-width="1.2"/>
<circle cx="1328.6" cy="503.8" r="13.1" fill="#dc2a22" stroke="#a61b14" stroke-width="1.2"/>
<circle cx="1015.7" cy="587.4" r="13.1" fill="#dc2a22" stroke="#a61b14" stroke-width="1.2"/>
<circle cx="230" cy="818.6" r="15.0" fill="#dc2a22" stroke="#a61b14" stroke-width="1.2"/>
<circle cx="744.2" cy="354.1" r="15.399999999999999" fill="#62b33d" stroke="#2a6a18" stroke-width="1.6"/>
<circle cx="828.5" cy="354.1" r="15.399999999999999" fill="#62b33d" stroke="#2a6a18" stroke-width="1.6"/>
<circle cx="1069" cy="305" r="15.399999999999999" fill="#62b33d" stroke="#2a6a18" stroke-width="1.6"/>
<circle cx="230" cy="871.3" r="16.8" fill="#62b33d" stroke="#2a6a18" stroke-width="1.6"/>
<circle cx="839.2" cy="820.6" r="16.599999999999998" fill="#62b33d" stroke="#2a6a18" stroke-width="1.6"/>
<rect x="503.0" y="293.8" width="51.400000000000055" height="28.4" rx="4" fill="#f7981f" stroke="#8a3e08" stroke-width="1.6"/>
<rect x="1261.1" y="291.3" width="52.500000000000135" height="28.4" rx="4" fill="#f7981f" stroke="#8a3e08" stroke-width="1.6"/>
<rect x="449.8" y="569.0" width="51.70000000000001" height="27.699999999999953" rx="4" fill="#f7981f" stroke="#8a3e08" stroke-width="1.6"/>
<rect x="1292.3" y="574.1999999999999" width="51.49999999999991" height="28.4" rx="4" fill="#f7981f" stroke="#8a3e08" stroke-width="1.6"/>
<rect x="1109.6" y="807.1999999999999" width="48.100000000000044" height="27.100000000000044" rx="4" fill="#f7981f" stroke="#8a3e08" stroke-width="1.6"/>
<rect x="386.5" y="293" width="53.5" height="50" rx="7" fill="#fff" stroke="#2a2d30" stroke-width="2.6"/>
<path d="M 388 335 L 388 338 Q 388 344.5 395 344.5 L 431.5 344.5 Q 438.5 344.5 438.5 338 L 438.5 335" fill="none" stroke="#2a2d30" stroke-width="2.6"/>
<path d="M 395.9 311.1 A 21 21 0 0 1 429.5 311.1" fill="none" stroke="#2a2d30" stroke-width="4.6"/>
<path d="M 402.9 317.7 A 11.8 11.8 0 0 1 422.5 317.7" fill="none" stroke="#2a2d30" stroke-width="4.4"/>
<ellipse cx="412.7" cy="324.3" rx="4.4" ry="5.3" fill="#2a2d30"/>
<line x1="185" y1="773" x2="1401.5" y2="773" stroke="#a9a9ad" stroke-width="2"/>
<text x="1315.4" y="71.5" font-size="34.5" textLength="83.79999999999995" lengthAdjust="spacingAndGlyphs" stroke="#1b1e23" stroke-width="0.5">90 qm</text>
<text x="299.9" y="254" font-size="31" textLength="164.5" lengthAdjust="spacingAndGlyphs" stroke="#1b1e23" stroke-width="0.5">Wohnzimmer</text>
<text x="721.1" y="202.3" font-size="31" textLength="45.39999999999998" lengthAdjust="spacingAndGlyphs" stroke="#1b1e23" stroke-width="0.5">Bad</text>
<text x="1099.5" y="247.4" font-size="31" textLength="74.09999999999991" lengthAdjust="spacingAndGlyphs" stroke="#1b1e23" stroke-width="0.5">Küche</text>
<text x="735.4" y="415.7" font-size="31" textLength="45.700000000000045" lengthAdjust="spacingAndGlyphs" stroke="#1b1e23" stroke-width="0.5">Flur</text>
<text x="286.3" y="543.6" font-size="31" textLength="168.39999999999998" lengthAdjust="spacingAndGlyphs" stroke="#1b1e23" stroke-width="0.5">Kinderzimmer</text>
<text x="1048.5" y="547.2" font-size="31" textLength="163.29999999999995" lengthAdjust="spacingAndGlyphs" stroke="#1b1e23" stroke-width="0.5">Schlafzimmer</text>
<text x="258" y="830.3" font-size="28" textLength="184.5" lengthAdjust="spacingAndGlyphs" stroke="#1b1e23" stroke-width="0.5">Temperatursensor</text>
<text x="580.4" y="830" font-size="28" textLength="156.20000000000005" lengthAdjust="spacingAndGlyphs" stroke="#1b1e23" stroke-width="0.5">Fensterkontakt</text>
<text x="869.4" y="831.9" font-size="28" textLength="188.19999999999993" lengthAdjust="spacingAndGlyphs" stroke="#1b1e23" stroke-width="0.5">Bewegungsmelder</text>
<text x="1172.2" y="831" font-size="28" textLength="181.70000000000005" lengthAdjust="spacingAndGlyphs" stroke="#1b1e23" stroke-width="0.5">Smart-Thermostat</text>
<text x="260" y="887" font-size="28" textLength="179.8" lengthAdjust="spacingAndGlyphs" stroke="#1b1e23" stroke-width="0.5">Bewegungmelder</text>
</svg></body></html>
